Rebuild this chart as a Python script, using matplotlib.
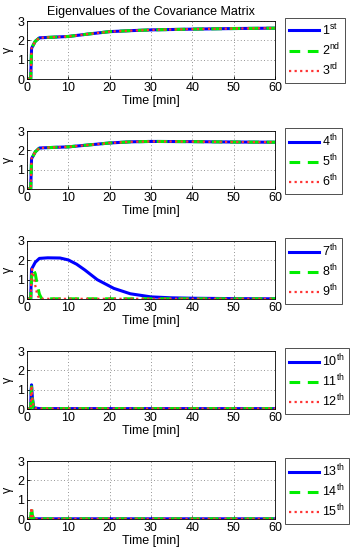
import matplotlib
matplotlib.use("Agg")
import matplotlib.pyplot as plt

plt.rcParams['font.family'] = ['Liberation Sans', 'DejaVu Sans']
plt.rcParams['mathtext.fontset'] = 'custom'
plt.rcParams['mathtext.rm'] = 'Liberation Sans'
plt.rcParams['mathtext.it'] = 'Liberation Sans:italic'

# ---------------- data ----------------
t_slow = [0, 0.9, 1.0, 1.1, 1.5, 2.0, 3.0, 5, 10, 15, 20, 25, 30, 40, 50, 60]
ev1 = [0, 0, 0.8, 1.58, 1.75, 1.95, 2.13, 2.15, 2.2, 2.33, 2.45, 2.5, 2.54, 2.58, 2.61, 2.63]
ev2 = ev1
ev3 = ev1
ev4 = [0, 0, 0.8, 1.57, 1.72, 1.92, 2.12, 2.14, 2.18, 2.28, 2.38, 2.44, 2.46, 2.45, 2.43, 2.42]
ev5 = ev4
ev6 = ev4

t_mid = [0, 0.9, 1.0, 1.1, 1.5, 2.0, 3.0, 5, 8, 10, 12, 14, 17, 21, 25, 30, 35, 40, 50, 60]
ev7 = [0, 0, 0.8, 1.55, 1.7, 1.9, 2.1, 2.13, 2.12, 2.02, 1.8, 1.5, 1.0, 0.55, 0.27, 0.11, 0.06, 0.04, 0.02, 0.01]
t_fast = [0, 0.9, 1.0, 1.2, 1.5, 2.0, 2.5, 3.0, 3.5, 5, 10, 20, 30, 40, 50, 60]
ev8 = [0, 0, 0.6, 1.4, 1.55, 1.3, 0.7, 0.25, 0.03, 0.01, 0.01, 0.01, 0.01, 0.01, 0.01, 0.01]
ev9 = [0, 0, 0.7, 1.55, 1.3, 0.7, 0.2, 0.02, 0.01, 0.01, 0.01, 0.01, 0.01, 0.01, 0.01, 0.01]

t_spike = [0, 0.9, 1.0, 1.1, 1.3, 1.6, 2.0, 3.0, 10, 20, 30, 40, 50, 60]
ev10 = [0, 0, 1.0, 1.25, 0.6, 0.1, 0.05, 0.02, 0.02, 0.02, 0.02, 0.02, 0.02, 0.02]
ev11 = [0, 0, 0.8, 1.15, 0.5, 0.08, 0.04, 0.02, 0.02, 0.02, 0.02, 0.02, 0.02, 0.02]
ev12 = [0, 0, 0.9, 1.2, 0.55, 0.09, 0.04, 0.02, 0.02, 0.02, 0.02, 0.02, 0.02, 0.02]
ev13 = [0, 0, 0.15, 0.2, 0.05, 0.02, 0.01, 0.01, 0.01, 0.01, 0.01, 0.01, 0.01, 0.01]
ev14 = [0, 0, 0.5, 0.62, 0.2, 0.03, 0.01, 0.01, 0.01, 0.01, 0.01, 0.01, 0.01, 0.01]
ev15 = [0, 0, 0.45, 0.58, 0.18, 0.03, 0.01, 0.01, 0.01, 0.01, 0.01, 0.01, 0.01, 0.01]

panels = [
    [(t_slow, ev1, '1', 'st'), (t_slow, ev2, '2', 'nd'), (t_slow, ev3, '3', 'rd')],
    [(t_slow, ev4, '4', 'th'), (t_slow, ev5, '5', 'th'), (t_slow, ev6, '6', 'th')],
    [(t_mid, ev7, '7', 'th'), (t_fast, ev8, '8', 'th'), (t_fast, ev9, '9', 'th')],
    [(t_spike, ev10, '10', 'th'), (t_spike, ev11, '11', 'th'), (t_spike, ev12, '12', 'th')],
    [(t_spike, ev13, '13', 'th'), (t_spike, ev14, '14', 'th'), (t_spike, ev15, '15', 'th')],
]
xticks = [0, 10, 20, 30, 40, 50, 60]
yticks = [0, 1, 2, 3]

styles = [
    dict(color='#0000ff', linestyle='-', linewidth=2.2),
    dict(color='#00ee00', linestyle=(0, (3.5, 2.5)), linewidth=2.2),
    dict(color='#ff3333', linestyle=(0, (1, 1.5)), linewidth=1.6),
]

W, H = 352, 550
fig = plt.figure(figsize=(W / 100, H / 100), dpi=100)
fig.patch.set_facecolor('white')

left, right = 27, 275
for i, series in enumerate(panels):
    top = 21 + 110 * i
    hgt = 58
    ax = fig.add_axes([left / W, 1 - (top + hgt) / H, (right - left) / W, hgt / H])
    handles = []
    for (t, v, n, suf), st in zip(series, styles):
        h, = ax.plot(t, v, **st)
        handles.append(h)
    ax.set_xlim(0, 60)
    ax.set_ylim(0, 3)
    ax.set_xticks(xticks)
    ax.set_yticks(yticks)
    ax.tick_params(labelsize=9, direction='in', length=2, width=0.6, pad=2)
    ax.grid(True, linestyle=(0, (1, 3)), color='0.45', linewidth=0.6)
    for s in ax.spines.values():
        s.set_linewidth(0.6)
    ax.set_xlabel('Time [min]', fontsize=9, labelpad=1)
    ax.set_ylabel('γ', fontsize=9, labelpad=2)
    labels = [n + r'$^{\rm ' + suf + '}$' for (_, _, n, suf) in series]
    leg = fig.legend(handles, labels, loc='upper left',
                     bbox_to_anchor=(285 / W, 1 - (top - 3) / H),
                     fontsize=9, handlelength=2.4,
                     handletextpad=0.2, labelspacing=0.3, borderpad=0.35,
                     borderaxespad=0, fancybox=False, frameon=True)
    leg.get_frame().set_edgecolor('black')
    leg.get_frame().set_linewidth(0.6)
    if i == 0:
        ax.set_title('Eigenvalues of the Covariance Matrix', fontsize=9, pad=4)

fig.savefig('out.png', dpi=100, facecolor='white')
